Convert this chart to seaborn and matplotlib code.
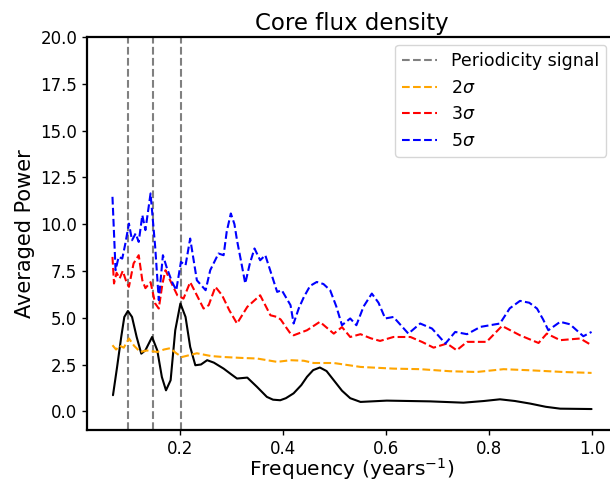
import matplotlib
matplotlib.use("Agg")
import matplotlib.pyplot as plt
import seaborn as sns

# ---- data ----
periodicity_freqs = [0.098, 0.146, 0.201]

freq_power = [0.069, 0.077, 0.085, 0.091, 0.098, 0.106, 0.115, 0.124, 0.132, 0.145, 0.155, 0.164,
              0.172, 0.181, 0.19, 0.2, 0.21, 0.219, 0.229, 0.24, 0.252, 0.265, 0.284, 0.3, 0.31,
              0.33, 0.349, 0.368, 0.38, 0.394, 0.405, 0.42, 0.435, 0.446, 0.458, 0.471, 0.484,
              0.498, 0.514, 0.53, 0.55, 0.601, 0.685, 0.75, 0.79, 0.821, 0.85, 0.88, 0.91, 0.938, 0.999]
power = [0.86, 2.37, 3.97, 5.04, 5.36, 5.04, 3.97, 3.08, 3.26, 3.97, 3.26, 1.83,
         1.12, 1.66, 4.33, 5.76, 5.04, 3.44, 2.46, 2.5, 2.73, 2.6, 2.28, 1.95, 1.75,
         1.8, 1.3, 0.77, 0.62, 0.59, 0.7, 0.96, 1.4, 1.84, 2.2, 2.34, 2.15,
         1.66, 1.1, 0.7, 0.5, 0.57, 0.53, 0.46, 0.55, 0.64, 0.55, 0.41, 0.24, 0.14, 0.12]

freq_2sig = [0.068, 0.075, 0.082, 0.09, 0.1, 0.11, 0.122, 0.135, 0.155, 0.168, 0.18, 0.192, 0.203,
             0.232, 0.26, 0.284, 0.32, 0.349, 0.388, 0.414, 0.44, 0.459, 0.498, 0.55, 0.614,
             0.666, 0.724, 0.776, 0.828, 0.88, 0.944, 0.999]
sig2 = [3.53, 3.3, 3.5, 3.4, 3.89, 3.5, 3.17, 3.25, 3.17, 3.3, 3.37, 3.1, 2.9,
        3.1, 2.95, 2.9, 2.85, 2.82, 2.64, 2.73, 2.7, 2.58, 2.58, 2.37, 2.28,
        2.25, 2.14, 2.1, 2.25, 2.19, 2.1, 2.05]

freq_3sig = [0.068, 0.071, 0.076, 0.082, 0.088, 0.094, 0.1, 0.109, 0.119, 0.126, 0.132, 0.142,
             0.151, 0.158, 0.165, 0.171, 0.18, 0.194, 0.206, 0.219, 0.232, 0.245, 0.255, 0.268,
             0.281, 0.295, 0.31, 0.33, 0.355, 0.375, 0.388, 0.395, 0.405, 0.414, 0.42, 0.446,
             0.471, 0.498, 0.514, 0.53, 0.55, 0.57, 0.588, 0.614, 0.647, 0.67, 0.692, 0.718,
             0.737, 0.757, 0.795, 0.825, 0.86, 0.896, 0.912, 0.938, 0.977, 0.999]
sig3 = [8.25, 6.83, 7.4, 7.1, 7.5, 7.0, 6.65, 7.9, 8.34, 7.0, 6.58, 6.9,
        5.76, 5.49, 6.8, 7.54, 7.0, 6.2, 6.02, 6.9, 6.2, 5.49, 5.67, 6.65,
        6.2, 5.4, 4.69, 5.58, 6.2, 5.13, 5.04, 4.9, 4.5, 4.15, 4.06, 4.33,
        4.78, 4.15, 4.5, 3.97, 4.12, 3.9, 3.76, 3.97, 3.97, 3.7, 3.4, 3.62,
        3.26, 3.71, 3.71, 4.56, 4.06, 3.65, 4.15, 3.8, 3.89, 3.53]

freq_5sig = [0.068, 0.074, 0.08, 0.087, 0.093, 0.1, 0.106, 0.113, 0.119, 0.126, 0.132, 0.142,
             0.151, 0.158, 0.166, 0.174, 0.184, 0.192, 0.201, 0.21, 0.219, 0.232, 0.249, 0.258,
             0.274, 0.284, 0.29, 0.298, 0.305, 0.31, 0.318, 0.326, 0.335, 0.344, 0.355, 0.365,
             0.388, 0.397, 0.414, 0.42, 0.43, 0.44, 0.452, 0.465, 0.478, 0.491, 0.503, 0.514,
             0.53, 0.542, 0.556, 0.572, 0.585, 0.598, 0.614, 0.643, 0.666, 0.689, 0.715, 0.734,
             0.757, 0.783, 0.821, 0.84, 0.86, 0.878, 0.893, 0.905, 0.915, 0.938, 0.957, 0.983, 0.999]
sig5 = [11.46, 7.54, 8.25, 8.16, 8.96, 10.03, 9.14, 9.5, 9.05, 10.48, 9.68, 11.64,
        8.78, 5.94, 8.34, 7.63, 6.9, 6.47, 7.98, 7.8, 9.23, 7.0, 6.47, 7.54,
        8.43, 8.34, 9.6, 10.57, 10.0, 9.14, 8.0, 6.83, 7.9, 8.7, 8.07, 8.34,
        6.38, 6.47, 5.67, 4.69, 5.5, 6.11, 6.7, 6.91, 6.8, 6.47, 5.6, 4.6,
        4.96, 4.6, 5.6, 6.29, 5.8, 4.96, 5.04, 4.15, 4.69, 4.42, 3.62, 4.24,
        4.12, 4.51, 4.69, 5.5, 5.9, 5.8, 5.49, 4.9, 4.33, 4.78, 4.65, 4.01, 4.24]

# ---- plotting ----
sns.set_style("ticks", {"text.color": "black", "axes.labelcolor": "black",
                        "xtick.color": "black", "ytick.color": "black",
                        "axes.edgecolor": "black"})
plt.rcParams["font.family"] = ["DejaVu Sans"]

fig = plt.figure(figsize=(6.10, 4.83), dpi=100)
ax = fig.add_axes([87 / 610, (483 - 430) / 483, 529 / 610, 393 / 483])

for i, f in enumerate(periodicity_freqs):
    ax.axvline(f, color="gray", linestyle="--", linewidth=1.5,
               label="Periodicity signal" if i == 0 else None)

sns.lineplot(x=freq_power, y=power, ax=ax, color="black", linewidth=1.5)
sns.lineplot(x=freq_2sig, y=sig2, ax=ax, color="orange", linestyle="--", linewidth=1.5, label=r"2$\sigma$")
sns.lineplot(x=freq_3sig, y=sig3, ax=ax, color="red", linestyle="--", linewidth=1.5, label=r"3$\sigma$")
sns.lineplot(x=freq_5sig, y=sig5, ax=ax, color="blue", linestyle="--", linewidth=1.5, label=r"5$\sigma$")

ax.set_xlim(0.0185, 1.0465)
ax.set_ylim(-1, 20)
ax.set_xticks([0.2, 0.4, 0.6, 0.8, 1.0])
ax.set_yticks([0, 2.5, 5, 7.5, 10, 12.5, 15, 17.5, 20])
ax.set_yticklabels(["0.0", "2.5", "5.0", "7.5", "10.0", "12.5", "15.0", "17.5", "20.0"])
ax.tick_params(labelsize=12, width=1.0, length=3.5, pad=3.5)
for s in ax.spines.values():
    s.set_linewidth(1.6)
    s.set_color("black")

ax.set_title("Core flux density", fontsize=16.5, pad=5)
ax.set_xlabel(r"Frequency (years$^{-1}$)", fontsize=14.5, labelpad=-1)
ax.set_ylabel("Averaged Power", fontsize=15, labelpad=4)

leg = ax.legend(loc="upper right", fontsize=12.5, frameon=True, handlelength=2.0,
                borderaxespad=0,
                bbox_to_anchor=(606 / 610, 1 - 45 / 483), bbox_transform=fig.transFigure)

fig.savefig("out.png", dpi=100)
